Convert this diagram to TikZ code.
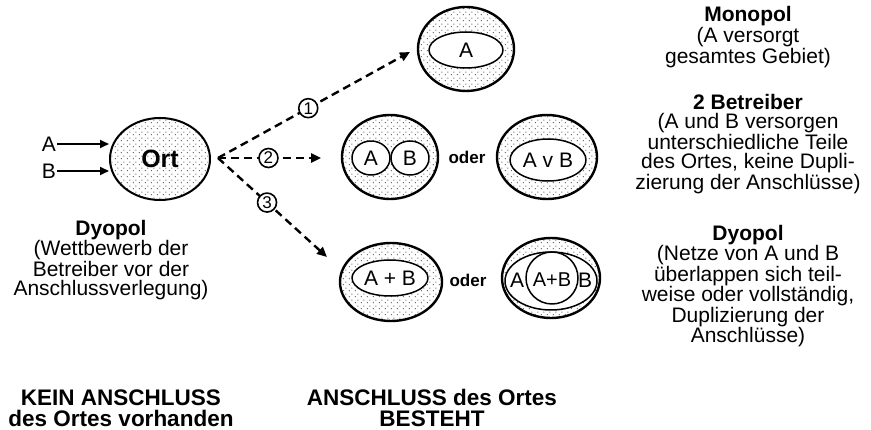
\documentclass[tikz,border=0pt]{standalone}
\usepackage{fontspec}
\setmainfont{Liberation Sans}
\usetikzlibrary{shapes.geometric,arrows.meta,patterns.meta}

\tikzdeclarepattern{
  name=stipple,
  type=uncolored,
  bottom left={(0pt,0pt)},
  top right={(6pt,6pt)},
  tile size={(6pt,6pt)},
  code={
    \pgfpathcircle{\pgfpoint{1.5pt}{1.5pt}}{0.65pt}
    \pgfpathcircle{\pgfpoint{4.5pt}{4.5pt}}{0.65pt}
    \pgfusepath{fill}
  }
}

\tikzset{
  ring/.style={ellipse, draw, line width=2.4pt, pattern=stipple, pattern color=black!75, inner sep=0pt},
  hole/.style={ellipse, draw, line width=1.5pt, fill=white, inner sep=0pt, font=\fontsize{21}{21}\selectfont},
  lbl/.style={align=center, font=\fontsize{21}{19}\selectfont},
  foot/.style={align=center, font=\bfseries\fontsize{22.5}{21}\selectfont},
  oder/.style={font=\bfseries\fontsize{17}{17}\selectfont},
  link/.style={line width=2.4pt, dash pattern=on 8pt off 5pt, -{Triangle[length=10pt,width=9pt]}},
  feed/.style={line width=2pt, -{Triangle[length=9pt,width=8pt]}},
  num/.style={circle, draw, solid, line width=1.6pt, fill=white, inner sep=0pt, minimum size=19pt, font=\fontsize{17}{17}\selectfont}
}

\begin{document}
\begin{tikzpicture}[x=1pt,y=-1pt,line join=round]
  \useasboundingbox (0,0) rectangle (871,430);

  % no connection yet
  \node[ellipse, draw, line width=2pt, pattern=stipple, pattern color=black!75,
        minimum width=100pt, minimum height=82pt, inner sep=0pt,
        font=\bfseries\fontsize{25}{25}\selectfont] (ort) at (160,159) {Ort};
  \node[lbl, inner sep=1pt] (la) at (49,144) {A};
  \node[lbl, inner sep=1pt] (lb) at (49,171) {B};
  \draw[feed] (la) -- (la -| ort.west);
  \draw[feed] (lb) -- (lb -| ort.west);
  \node[lbl] (ort txt) at (111,260) {\textbf{Dyopol}\\(Wettbewerb der\\Betreiber vor der\\Anschlussverlegung)};

  % three outcomes
  \coordinate (fork) at (218,158);
  \coordinate (t1) at (410,52);
  \coordinate (t2) at (321,158);
  \coordinate (t3) at (327,257);
  \draw[link] (fork) -- node[num, pos=.47] (n1) {1} (t1);
  \draw[link] (fork) -- node[num, pos=.49] (n2) {2} (t2);
  \draw[link] (fork) -- node[num, pos=.45] (n3) {3} (t3);

  % monopol
  \node[ring, minimum width=96pt, minimum height=84pt] (mono) at (466,49) {};
  \node[hole, minimum width=74pt, minimum height=36pt] (mono a) at (466,50) {A};

  % two operators
  \node[ring, minimum width=96pt, minimum height=84pt] (two l) at (390,157) {};
  \node[hole, minimum width=38pt, minimum height=34pt] (two a) at (371,158) {A};
  \node[hole, minimum width=38pt, minimum height=34pt] (two b) at (410,158) {B};
  \node[oder] (or1) at (467,157) {oder};
  \node[ring, minimum width=100pt, minimum height=84pt] (two r) at (547,157) {};
  \node[hole, minimum width=76pt, minimum height=42pt] (two ab) at (548,160) {A v B};

  % dyopol
  \node[ring, minimum width=102pt, minimum height=78pt] (dyo l) at (391,282) {};
  \node[hole, minimum width=76pt, minimum height=36pt] (dyo ab) at (390,278) {A + B};
  \node[oder] (or2) at (468,280) {oder};
  \node[ring, minimum width=98pt, minimum height=80pt] (dyo r) at (551,278) {};
  \node[hole, minimum width=92pt, minimum height=58pt] (dyo wide) at (551,281) {};
  \node[hole, circle, minimum size=52pt] (dyo both) at (552,278) {};
  \node[font=\fontsize{21}{21}\selectfont] (dyo a) at (517,280) {A};
  \node[font=\fontsize{20}{20}\selectfont] (dyo mid) at (552,280) {A+B};
  \node[font=\fontsize{21}{21}\selectfont] (dyo b) at (585,280) {B};

  % descriptions
  \node[lbl] (mono txt) at (748,37) {\textbf{Monopol}\\(A versorgt\\gesamtes Gebiet)};
  \node[lbl] (two txt) at (748,144) {\textbf{2 Betreiber}\\(A und B versorgen\\unterschiedliche Teile\\des Ortes, keine Dupli-\\zierung der Anschlüsse)};
  \node[lbl] (dyo txt) at (748,286) {\textbf{Dyopol}\\(Netze von A und B\\überlappen sich teil-\\weise oder vollständig,\\Duplizierung der\\Anschlüsse)};

  \node[foot] (none) at (121,408) {KEIN ANSCHLUSS\\des Ortes vorhanden};
  \node[foot] (some) at (432,408) {ANSCHLUSS des Ortes\\BESTEHT};
\end{tikzpicture}
\end{document}
